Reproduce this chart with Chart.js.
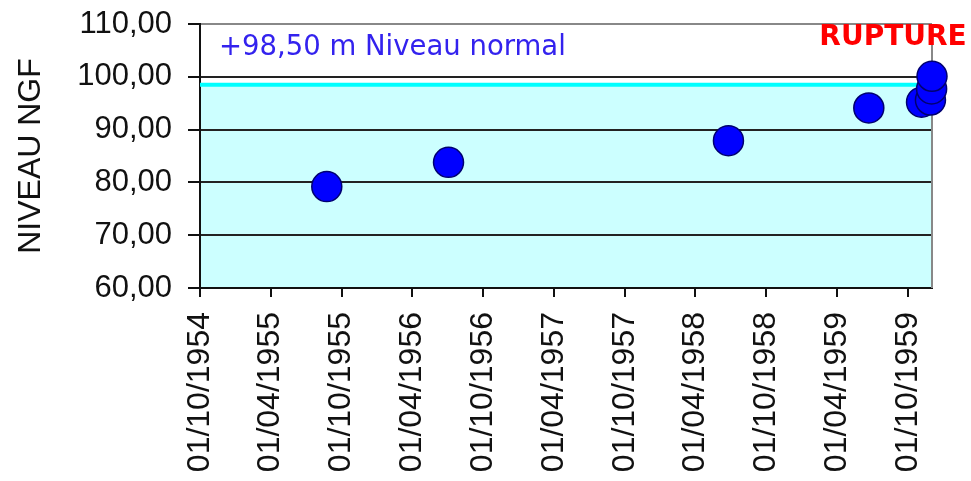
<!DOCTYPE html>
<html>
<head>
<meta charset="utf-8">
<script src="https://cdn.jsdelivr.net/npm/chart.js@4.4.1/dist/chart.umd.min.js"></script>
<style>
  body { margin: 0; background: #fff; }
  #wrap { width: 971px; height: 481px; }
</style>
</head>
<body>
<div id="wrap"><canvas id="myChart" width="971" height="481"></canvas></div>
<script>
// dates of the readings (dd/mm/yyyy) and water level in m NGF
const readingDates = ['24/08/1955', '03/07/1956', '25/06/1958', '22/06/1959',
                      '05/11/1959', '28/11/1959', '01/12/1959', '02/12/1959'];
const levels = [79.2, 83.8, 87.9, 94.1, 95.2, 95.6, 97.7, 100.1];

const xTickLabels = ['01/10/1954', '01/04/1955', '01/10/1955', '01/04/1956', '01/10/1956',
                     '01/04/1957', '01/10/1957', '01/04/1958', '01/10/1958', '01/04/1959', '01/10/1959'];
const yTickLabels = ['60,00', '70,00', '80,00', '90,00', '100,00', '110,00'];

const xStart = '01/10/1954';
const xEnd = '02/12/1959';
const normalLevel = 98.5;
const normalLabel = '+98,50 m Niveau normal';
const ruptureLabel = 'RUPTURE';

// dd/mm/yyyy -> ms
function toTime(s) {
  const p = s.split('/');
  return Date.UTC(+p[2], +p[1] - 1, +p[0]);
}

const points = readingDates.map((d, i) => ({ x: toTime(d), y: levels[i] }));
const xTicks = xTickLabels.map(toTime);
const yTicks = yTickLabels.map(s => parseFloat(s.replace(',', '.')));

// light cyan below the normal level, white above
const bgPlugin = {
  id: 'bgPlugin',
  beforeDraw(chart) {
    const { ctx, chartArea: a, scales } = chart;
    const yN = scales.y.getPixelForValue(normalLevel);
    ctx.save();
    ctx.fillStyle = '#ccffff';
    ctx.fillRect(a.left, yN, a.right - a.left, a.bottom - yN);
    ctx.restore();
  },
  beforeDatasetsDraw(chart) {
    const { ctx, chartArea: a } = chart;
    ctx.save();
    ctx.strokeStyle = '#888';
    ctx.lineWidth = 2;
    ctx.beginPath();
    ctx.moveTo(a.right, a.top);
    ctx.lineTo(a.right, a.bottom);
    ctx.stroke();
    ctx.restore();
  },
  afterDraw(chart) {
    const { ctx, chartArea: a } = chart;
    ctx.save();
    ctx.textBaseline = 'middle';
    ctx.fillStyle = '#3322ee';
    ctx.font = '27.5px "DejaVu Sans"';
    ctx.textAlign = 'left';
    ctx.fillText(normalLabel, a.left + 19, 48);
    ctx.fillStyle = '#ff0000';
    ctx.font = 'bold 28px "DejaVu Sans"';
    ctx.textAlign = 'center';
    ctx.fillText(ruptureLabel, 893, 38);
    ctx.restore();
  }
};

new Chart(document.getElementById('myChart'), {
  type: 'scatter',
  data: {
    datasets: [
      {
        type: 'line',
        data: [{ x: toTime(xStart), y: normalLevel }, { x: toTime(xEnd), y: normalLevel }],
        borderColor: '#00ffff',
        borderWidth: 4,
        pointRadius: 0,
        fill: false,
        order: 2
      },
      {
        data: points,
        backgroundColor: '#0000ff',
        borderColor: '#000070',
        borderWidth: 1.5,
        pointRadius: 15,
        pointHoverRadius: 15,
        clip: false,
        order: 1
      }
    ]
  },
  options: {
    responsive: false,
    animation: false,
    layout: { padding: { left: 0, top: 24, right: 39, bottom: 0 } },
    plugins: {
      legend: { display: false },
      tooltip: { enabled: false }
    },
    scales: {
      x: {
        type: 'linear',
        min: toTime(xStart),
        max: toTime(xEnd),
        afterFit: s => { s.height = 193; },
        afterBuildTicks: s => { s.ticks = xTicks.map(v => ({ value: v })); },
        border: { color: '#111', width: 2 },
        grid: { drawOnChartArea: false, drawTicks: true, tickLength: 9, color: '#111', lineWidth: 2 },
        ticks: {
          autoSkip: false,
          minRotation: 90,
          maxRotation: 90,
          padding: 15,
          color: '#111',
          font: { family: '"Liberation Sans", Arial', size: 32 },
          callback: v => xTickLabels[xTicks.indexOf(v)] || ''
        }
      },
      y: {
        min: 60,
        max: 110,
        afterFit: s => { s.width = 200; s.paddingTop = 0; s.paddingBottom = 0; },
        afterBuildTicks: s => { s.ticks = yTicks.map(v => ({ value: v })); },
        border: { color: '#111', width: 2 },
        grid: {
          color: c => (c.tick && c.tick.value === 110 ? '#888' : '#222'),
          tickColor: '#111',
          lineWidth: 2,
          tickLength: 12
        },
        ticks: {
          padding: 16,
          color: '#111',
          font: { family: '"Liberation Sans", Arial', size: 31 },
          callback: v => yTickLabels[yTicks.indexOf(v)] || ''
        },
        title: {
          display: true,
          text: 'NIVEAU NGF',
          color: '#111',
          padding: { top: 12, bottom: 0 },
          font: { family: '"Liberation Sans", Arial', size: 32 }
        }
      }
    }
  },
  plugins: [bgPlugin]
});
</script>
</body>
</html>
